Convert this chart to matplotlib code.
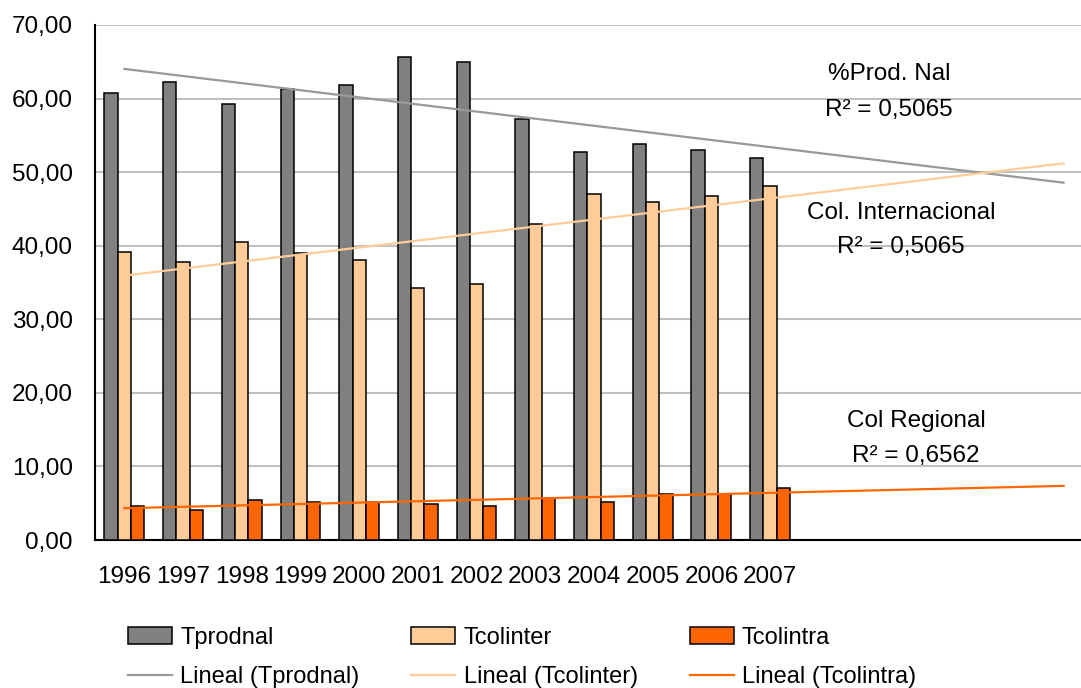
import numpy as np
import matplotlib.pyplot as plt

# Data
years = ['1996', '1997', '1998', '1999', '2000', '2001',
         '2002', '2003', '2004', '2005', '2006', '2007']
tprodnal = [60.7, 62.3, 59.3, 61.3, 61.8, 65.6, 65.0, 57.2, 52.7, 53.8, 53.0, 51.9]
tcolinter = [39.1, 37.8, 40.5, 39.0, 38.1, 34.2, 34.8, 42.9, 47.0, 45.9, 46.8, 48.1]
tcolintra = [4.6, 4.1, 5.4, 5.2, 5.1, 4.9, 4.6, 5.7, 5.2, 6.3, 6.2, 7.1]
FORWARD = 5  # trend lines are extended 5 periods forward

plt.rcParams['font.family'] = ['Liberation Sans', 'DejaVu Sans']

fig = plt.figure(figsize=(10.81, 6.88), dpi=100)
ax = fig.add_axes([95 / 1081, 1 - 540 / 688, 1 - 95 / 1081, (540 - 25) / 688])

x = np.arange(len(years))
w = 0.226
series = [
    (tprodnal, '#808080', '#999999', 'Tprodnal'),
    (tcolinter, '#FFCC99', '#FFCC99', 'Tcolinter'),
    (tcolintra, '#FF6600', '#FF6600', 'Tcolintra'),
]

bars, lines = [], []
xt = np.arange(0, len(years) + FORWARD)
for i, (vals, col, tcol, name) in enumerate(series):
    b = ax.bar(x + (i - 1) * w, vals, w, color=col, edgecolor='black',
               linewidth=1.1, label=name, zorder=3)
    bars.append(b)
    k, c = np.polyfit(x, vals, 1)
    ln, = ax.plot(xt, k * xt + c, color=tcol, linewidth=1.6, zorder=4,
                  label='Lineal (%s)' % name)
    lines.append(ln)

ax.set_ylim(0, 70)
ax.set_xlim(-0.5, (1081 - 124.4) / 58.7)
ax.set_yticks(np.arange(0, 71, 10))
ax.set_yticklabels(['%d,00' % v for v in range(0, 71, 10)])
ax.set_xticks(x)
ax.set_xticklabels(years)
ax.tick_params(axis='y', length=0, pad=16, labelsize=17.5)
ax.tick_params(axis='x', length=0, pad=19, labelsize=17.5)
ax.yaxis.grid(True, color='#c0c0c0', linewidth=1.5, zorder=0)
ax.set_axisbelow(True)
for s in ['top', 'right']:
    ax.spines[s].set_visible(False)
for s in ['left', 'bottom']:
    ax.spines[s].set_linewidth(1.5)

# Trend line labels
def px_to_data(px, py):
    return (px - 124.4) / 58.7, (540 - py) / 7.357

notes = [
    (889, 74, '%Prod. Nal'), (889, 110, 'R² = 0,5065'),
    (901, 213, 'Col. Internacional'), (901, 247, 'R² = 0,5065'),
    (916, 421, 'Col Regional'), (916, 456, 'R² = 0,6562'),
]
for px, py, t in notes:
    dx, dy = px_to_data(px, py)
    ax.text(dx, dy, t, ha='center', va='center', fontsize=17.5, zorder=5)

handles = [bars[0], lines[0], bars[1], lines[1], bars[2], lines[2]]
fig.legend(handles, [h.get_label() for h in handles], ncol=3, frameon=False,
           loc='upper left', bbox_to_anchor=(128 / 1081, 1 - 627 / 688),
           fontsize=17, handlelength=1.86, handletextpad=0.35,
           columnspacing=2.2, labelspacing=0.72, borderpad=0, borderaxespad=0)

fig.savefig('out.png', dpi=100)
